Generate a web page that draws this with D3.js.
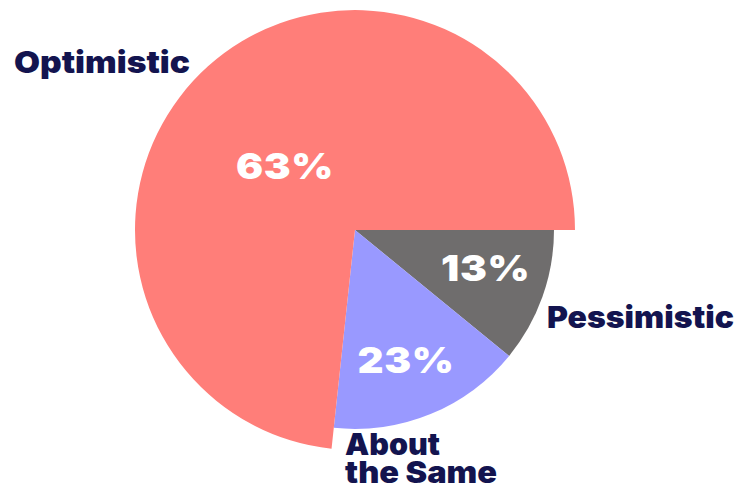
<!DOCTYPE html>
<html lang="en">
<head>
  <meta charset="UTF-8" />
  <title>Outlook Pie</title>
  <script src="https://d3js.org/d3.v7.min.js"></script>
  <style>
    body { margin: 0; background: #fff; font-family: Inter, "Noto Sans", Arial, sans-serif; }
    .pct { fill: #fff; font-weight: 900; font-size: 36px; letter-spacing: 0.5px; text-anchor: middle; }
    .cat { fill: #13144f; font-weight: 900; font-size: 30px; }
  </style>
</head>
<body>
  <svg id="chart" width="738" height="491"></svg>

  <script>
    // slices in drawing order (clockwise from 3 o'clock), sizes
    const categories = ["Pessimistic", "About the Same", "Optimistic"];
    const sliceShares = [10.9, 15.8, 73.3];
    const pctLabels = ["13%", "23%", "63%"];
    const colors = ["#6f6d6d", "#9999ff", "#ff7e79"];

    const svg = d3.select("#chart");
    const cx = 355, cy = 230;
    const rSmall = 199, rBig = 220;

    const data = categories.map((name, i) => ({ name, share: sliceShares[i], label: pctLabels[i], color: colors[i] }));

    const pie = d3.pie()
      .value(d => d.share)
      .sort(null)
      .startAngle(Math.PI / 2)
      .endAngle(Math.PI / 2 + 2 * Math.PI);

    const outerR = d => d.data.name === "Optimistic" ? rBig : rSmall;
    const arc = d3.arc().innerRadius(0).outerRadius(outerR);

    const g = svg.append("g").attr("transform", `translate(${cx},${cy})`);
    const arcs = pie(data);

    g.selectAll("path")
      .data(arcs)
      .join("path")
      .attr("d", arc)
      .attr("fill", d => d.data.color);

    // percentage labels inside the slices (radius + small angle nudge from mid-angle, degrees)
    const labelPlace = {
      "Optimistic": { r: 95, nudge: -5.6 },
      "Pessimistic": { r: 136, nudge: -3.4 },
      "About the Same": { r: 140, nudge: 1 }
    };
    g.selectAll("text.pct")
      .data(arcs)
      .join("text")
      .attr("class", "pct")
      .attr("dy", "0.36em")
      .attr("transform", d => {
        const p = labelPlace[d.data.name];
        const a = (d.startAngle + d.endAngle) / 2 + p.nudge * Math.PI / 180;
        // the source face is wider than Inter, so stretch a little
        return `translate(${p.r * Math.sin(a)},${-p.r * Math.cos(a)}) scale(1.12,1)`;
      })
      .text(d => d.data.label);

    // category labels, stretched to the widths of the original face
    const catText = (txt, x, y, w) => svg.append("text")
      .attr("class", "cat")
      .attr("x", x).attr("y", y)
      .attr("textLength", w)
      .attr("lengthAdjust", "spacingAndGlyphs")
      .text(txt);

    catText("Optimistic", 14, 73, 176);
    catText("Pessimistic", 547, 328, 187);
    catText("About", 345, 455, 95);
    catText("the Same", 345, 483, 152);
  </script>
</body>
</html>
